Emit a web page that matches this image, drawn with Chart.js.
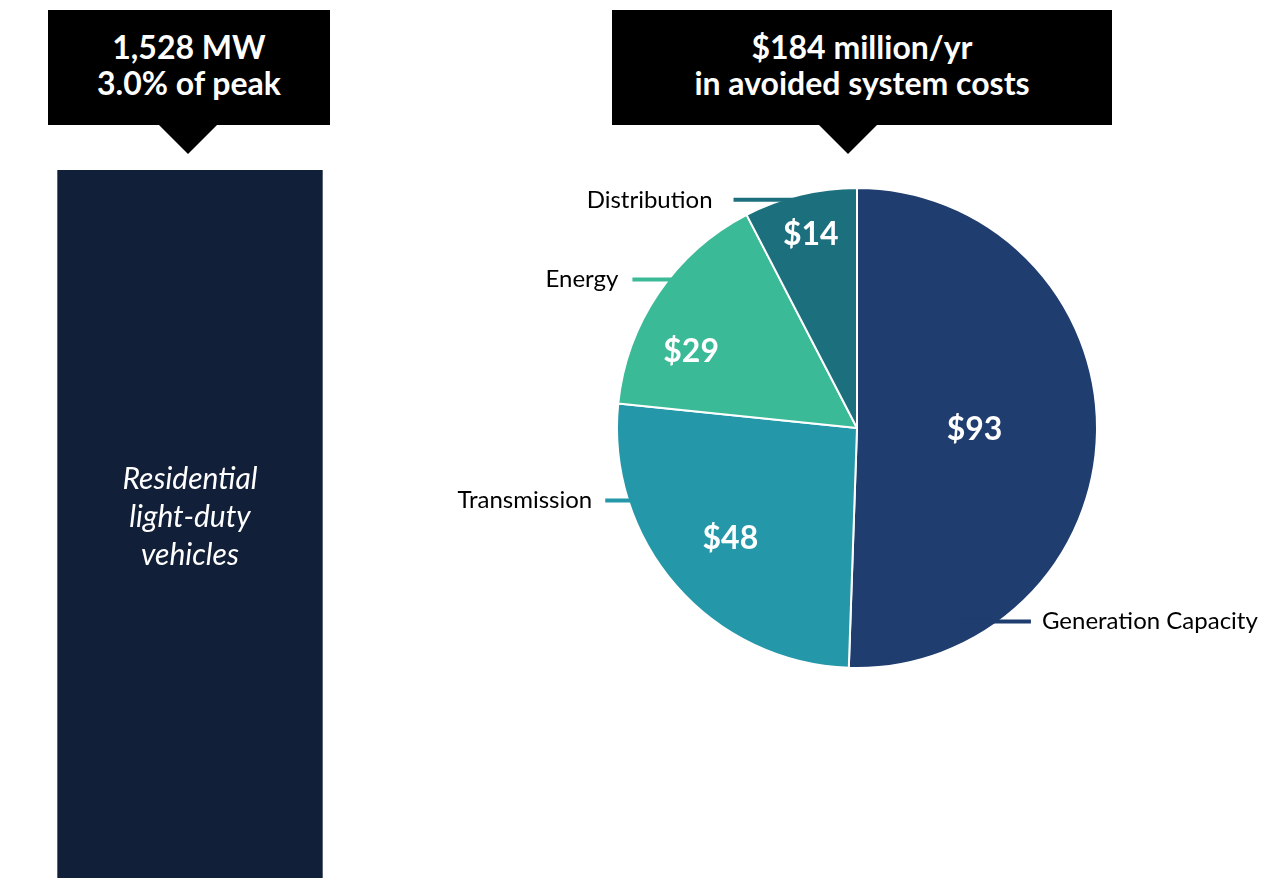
<!DOCTYPE html>
<html lang="en">
  <head>
    <meta charset="UTF-8" />
    <title>Avoided system costs</title>
    <script src="https://cdn.jsdelivr.net/npm/chart.js"></script>
    <style>
      body { margin: 0; width: 1264px; height: 878px; overflow: hidden; background: #fff; font-family: Lato, sans-serif; }
      .Callout { position: absolute; background: #000; color: #fff; font-weight: bold; font-size: 32px; line-height: 36px; text-align: center; box-sizing: border-box; padding-top: 19px; }
      .Callout::after { content: ""; position: absolute; top: 100%; border-left: 29px solid transparent; border-right: 29px solid transparent; border-top: 29px solid #000; }
      #calloutLeft { left: 48px; top: 10px; width: 282px; height: 115px; }
      #calloutLeft::after { left: 111px; }
      #calloutRight { left: 612px; top: 10px; width: 500px; height: 115px; }
      #calloutRight::after { left: 207px; }
      #barBox { position: absolute; left: 57px; top: 170px; width: 266px; height: 708px; }
      #pieBox { position: absolute; left: 400px; top: 150px; width: 864px; height: 560px; }
    </style>
  </head>
  <body>
    <div class="Callout" id="calloutLeft"></div>
    <div class="Callout" id="calloutRight"></div>
    <div id="barBox"><canvas id="barChart"></canvas></div>
    <div id="pieBox"><canvas id="pieChart"></canvas></div>

    <script>
      // data
      const barLabels = ["Residential light-duty vehicles"];
      const barValues = [1528]; // MW
      const peakShare = [3.0]; // % of peak
      const costLabels = ["Generation Capacity", "Transmission", "Energy", "Distribution"];
      const costValues = [93, 48, 29, 14]; // $ million/yr

      const costColors = ["#1f3d6f", "#2498a9", "#3aba97", "#1c707e"];
      const total = costValues.reduce((a, b) => a + b, 0);

      document.getElementById("calloutLeft").innerHTML =
        barValues[0].toLocaleString("en-US") + " MW<br>" + peakShare[0].toFixed(1) + "% of peak";
      document.getElementById("calloutRight").innerHTML =
        "$" + total + " million/yr<br>in avoided system costs";

      Chart.defaults.font.family = "Lato, sans-serif";

      // text written inside the bar
      const barText = {
        id: "barText",
        afterDatasetsDraw(chart) {
          const bar = chart.getDatasetMeta(0).data[0];
          const ctx = chart.ctx;
          ctx.save();
          ctx.fillStyle = "#fff";
          ctx.font = "italic 30px Lato, sans-serif";
          ctx.textAlign = "center";
          ctx.textBaseline = "middle";
          const lines = ["Residential", "light-duty", "vehicles"];
          lines.forEach((t, i) => ctx.fillText(t, bar.x, 347 + (i - 1) * 38));
          ctx.restore();
        },
      };

      new Chart(document.getElementById("barChart"), {
        type: "bar",
        data: {
          labels: barLabels,
          datasets: [
            {
              data: barValues,
              backgroundColor: "#111f38",
              borderColor: "#7d8799",
              borderWidth: { left: 1, right: 1, top: 0, bottom: 0 },
              barPercentage: 1,
              categoryPercentage: 1,
            },
          ],
        },
        options: {
          maintainAspectRatio: false,
          animation: false,
          layout: { padding: 0 },
          scales: {
            x: { display: false },
            y: { display: false, min: 0, max: barValues[0] },
          },
          plugins: { legend: { display: false }, tooltip: { enabled: false } },
        },
        plugins: [barText],
      });

      // slice values and leader-line category labels
      const pieLabels = {
        id: "pieLabels",
        afterDatasetsDraw(chart, args, opts) {
          const ctx = chart.ctx;
          const arcs = chart.getDatasetMeta(0).data;
          ctx.save();
          arcs.forEach((arc, i) => {
            const { x, y, startAngle, endAngle, outerRadius } = arc;
            // value inside
            const v = opts.values[i];
            const a = startAngle + v.f * (endAngle - startAngle);
            ctx.fillStyle = "#fff";
            ctx.font = "bold 32px Lato, sans-serif";
            ctx.textAlign = "center";
            ctx.textBaseline = "middle";
            ctx.fillText("$" + costValues[i], x + v.r * outerRadius * Math.cos(a), y + v.r * outerRadius * Math.sin(a));

            // leader line and label
            const l = opts.leaders[i];
            const b = startAngle + l.f * (endAngle - startAngle);
            const px = x + outerRadius * Math.cos(b);
            const py = y + outerRadius * Math.sin(b);
            const dir = l.side === "right" ? 1 : -1;
            const ex = px + dir * l.len;
            ctx.strokeStyle = costColors[i];
            ctx.lineWidth = 4;
            ctx.beginPath();
            ctx.moveTo(l.side === "right" ? px - 40 : px + 20, py);
            ctx.lineTo(ex, py);
            ctx.stroke();
            ctx.fillStyle = "#000";
            ctx.font = "24px Lato, sans-serif";
            ctx.textAlign = l.side === "right" ? "left" : "right";
            ctx.fillText(costLabels[i], ex + dir * l.gap, py);
          });
          ctx.restore();
        },
      };

      new Chart(document.getElementById("pieChart"), {
        type: "pie",
        data: {
          labels: costLabels,
          datasets: [
            {
              data: costValues,
              backgroundColor: costColors,
              borderColor: "#fff",
              borderWidth: 2,
            },
          ],
        },
        options: {
          maintainAspectRatio: false,
          animation: false,
          layout: { padding: { left: 216, top: 37, right: 166, bottom: 41 } },
          plugins: {
            legend: { display: false },
            tooltip: { enabled: false },
            pieLabels: {
              values: [
                { f: 0.5, r: 0.49 },
                { f: 0.5, r: 0.7 },
                { f: 0.33, r: 0.76 },
                { f: 0.51, r: 0.83 },
              ],
              leaders: [
                { f: 0.79, side: "right", len: 32, gap: 11 },
                { f: 0.75, side: "left", len: 23, gap: 13 },
                { f: 0.57, side: "left", len: 36, gap: 14 },
                { f: 0.34, side: "left", len: 49, gap: 21 },
              ],
            },
          },
        },
        plugins: [pieLabels],
      });
    </script>
  </body>
</html>
